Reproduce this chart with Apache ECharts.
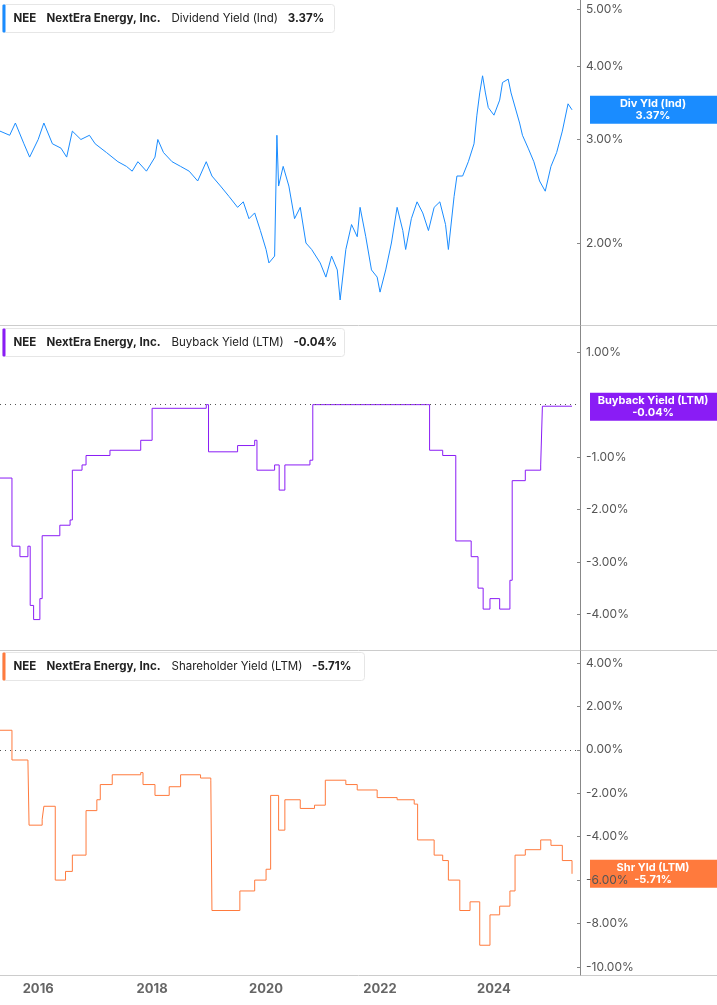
<!DOCTYPE html>
<html>
<head>
<meta charset="utf-8">
<script src="https://cdn.jsdelivr.net/npm/echarts@6/dist/echarts.min.js"></script>
<style>
html, body { margin: 0; padding: 0; background: #fff; }
#main { width: 717px; height: 1005px; }
</style>
</head>
<body>
<div id="main"></div>
<script>
// [year, %]
const divYield = [
  [2015.33, 3.1], [2015.5, 3.05], [2015.6, 3.2], [2015.75, 2.95], [2015.85, 2.8], [2016.0, 3.0], [2016.1, 3.2],
  [2016.25, 2.95], [2016.4, 2.9], [2016.5, 2.8], [2016.6, 3.1], [2016.75, 3.0], [2016.9, 3.05], [2017.0, 2.95],
  [2017.2, 2.85], [2017.4, 2.75], [2017.55, 2.7], [2017.65, 2.65], [2017.75, 2.75], [2017.9, 2.65], [2018.05, 2.8],
  [2018.1, 3.0], [2018.2, 2.85], [2018.35, 2.75], [2018.5, 2.7], [2018.65, 2.65], [2018.8, 2.55], [2018.95, 2.75],
  [2019.05, 2.6], [2019.2, 2.5], [2019.35, 2.4], [2019.5, 2.3], [2019.6, 2.35], [2019.7, 2.2], [2019.8, 2.25],
  [2019.9, 2.1], [2020.0, 1.95], [2020.05, 1.85], [2020.15, 1.9], [2020.19, 3.05], [2020.22, 2.5], [2020.3, 2.7],
  [2020.4, 2.5], [2020.5, 2.2], [2020.6, 2.3], [2020.7, 2.0], [2020.8, 1.95], [2020.95, 1.85], [2021.05, 1.75],
  [2021.15, 1.9], [2021.25, 1.8], [2021.3, 1.6], [2021.4, 1.95], [2021.5, 2.15], [2021.6, 2.05], [2021.65, 2.3],
  [2021.75, 2.05], [2021.85, 1.8], [2021.95, 1.75], [2022.0, 1.65], [2022.1, 1.8], [2022.2, 2.0], [2022.3, 2.3],
  [2022.4, 2.1], [2022.45, 1.95], [2022.55, 2.2], [2022.65, 2.35], [2022.75, 2.25], [2022.85, 2.1], [2022.95, 2.3],
  [2023.05, 2.35], [2023.15, 2.15], [2023.2, 1.95], [2023.3, 2.4], [2023.35, 2.6], [2023.45, 2.6], [2023.55, 2.75],
  [2023.65, 2.95], [2023.7, 3.3], [2023.75, 3.6], [2023.8, 3.85], [2023.85, 3.6], [2023.9, 3.4], [2024.0, 3.3],
  [2024.1, 3.5], [2024.15, 3.75], [2024.25, 3.8], [2024.3, 3.6], [2024.45, 3.2], [2024.5, 3.05], [2024.6, 2.9],
  [2024.7, 2.75], [2024.8, 2.55], [2024.9, 2.45], [2025.0, 2.7], [2025.1, 2.85], [2025.2, 3.1], [2025.3, 3.45],
  [2025.37, 3.37]
];
const buyback = [
  [2015.33, -1.4], [2015.54, -2.7], [2015.68, -2.9], [2015.82, -2.7], [2015.86, -3.83], [2015.92, -4.1],
  [2016.03, -3.7], [2016.07, -2.5], [2016.38, -2.3], [2016.56, -2.2], [2016.6, -1.25], [2016.77, -1.15],
  [2016.84, -0.97], [2017.26, -0.87], [2017.8, -0.68], [2018.0, -0.07], [2018.95, 0], [2018.99, -0.9],
  [2019.5, -0.78], [2019.8, -0.68], [2019.84, -1.25], [2020.15, -1.15], [2020.23, -1.63], [2020.33, -1.15],
  [2020.77, -1.06], [2020.82, 0], [2022.83, 0], [2022.87, -0.87], [2023.1, -0.97], [2023.33, -2.6],
  [2023.6, -2.9], [2023.72, -3.5], [2023.81, -3.9], [2023.93, -3.7], [2024.1, -3.9], [2024.28, -3.35],
  [2024.32, -1.45], [2024.55, -1.25], [2024.82, -1.15], [2024.85, -0.03], [2025.37, -0.04]
];
const shareholder = [
  [2015.33, 0.9], [2015.54, -0.47], [2015.82, -0.5], [2015.84, -3.47], [2016.07, -3.2], [2016.1, -2.6],
  [2016.3, -6.0], [2016.48, -5.6], [2016.6, -4.85], [2016.84, -2.8], [2017.03, -2.3], [2017.09, -1.6],
  [2017.3, -1.15], [2017.8, -1.05], [2017.84, -1.6], [2018.05, -2.1], [2018.3, -1.7], [2018.5, -1.15],
  [2018.85, -1.3], [2019.03, -1.4], [2019.05, -7.4], [2019.54, -6.5], [2019.8, -6.0], [2020.0, -5.5],
  [2020.08, -2.1], [2020.22, -3.7], [2020.33, -2.3], [2020.6, -2.7], [2020.85, -2.55], [2021.04, -1.4],
  [2021.4, -1.6], [2021.6, -1.85], [2021.95, -2.2], [2022.3, -2.3], [2022.6, -2.5], [2022.66, -4.15],
  [2022.95, -4.85], [2023.1, -5.1], [2023.2, -6.0], [2023.4, -7.4], [2023.58, -7.0], [2023.75, -9.0],
  [2023.93, -7.6], [2024.1, -7.2], [2024.28, -6.5], [2024.37, -4.85], [2024.55, -4.6], [2024.82, -4.15],
  [2025.0, -4.4], [2025.2, -5.1], [2025.37, -5.71]
];
const divTicks = [2, 3, 4, 5];
const buyTicks = [1, -1, -2, -3, -4];
const shrTicks = [4, 2, 0, -2, -4, -6, -8, -10];
const yearTicks = [2016, 2018, 2020, 2022, 2024];

const BLUE = '#1a8cff', PURPLE = '#8a1cf5', ORANGE = '#ff7a3d';
const X_MIN = 2015.33, X_MAX = 2025.51;

const chart = echarts.init(document.getElementById('main'));
const grids = [
  { left: 0, width: 580, top: 0, height: 325 },
  { left: 0, width: 580, top: 326, height: 324 },
  { left: 0, width: 580, top: 651, height: 324 }
];
const xAxis = grids.map((g, i) => ({
  type: 'value', gridIndex: i, min: X_MIN, max: X_MAX,
  axisLine: { show: false },
  axisTick: { show: false },
  splitLine: { show: false },
  axisLabel: {
    show: i === 2, customValues: yearTicks, color: '#666', fontWeight: 'bold',
    fontSize: 13, fontFamily: 'Inter', formatter: v => String(Math.round(v))
  }
}));
const yBase = {
  position: 'right', splitLine: { show: false },
  axisLine: { show: true, onZero: false, lineStyle: { color: '#888' } },
  axisTick: { show: true, length: 3, inside: true, lineStyle: { color: '#888' } },
  axisLabel: { color: '#555', fontSize: 12, fontFamily: 'Inter', margin: 6 }
};
const yAxis = [
  Object.assign({}, yBase, {
    type: 'value', gridIndex: 0, min: 0.372, max: 1.645,
    axisTick: Object.assign({}, yBase.axisTick, { customValues: divTicks.map(Math.log) }),
    axisLabel: Object.assign({}, yBase.axisLabel, {
      customValues: divTicks.map(Math.log), formatter: v => Math.exp(v).toFixed(2) + '%'
    })
  }),
  Object.assign({}, yBase, {
    type: 'value', gridIndex: 1, min: -4.68, max: 1.5,
    axisTick: Object.assign({}, yBase.axisTick, { customValues: buyTicks }),
    axisLabel: Object.assign({}, yBase.axisLabel, { customValues: buyTicks, formatter: v => v.toFixed(2) + '%' })
  }),
  Object.assign({}, yBase, {
    type: 'value', gridIndex: 2, min: -10.37, max: 4.55,
    axisTick: Object.assign({}, yBase.axisTick, { customValues: shrTicks }),
    axisLabel: Object.assign({}, yBase.axisLabel, { customValues: shrTicks, formatter: v => v.toFixed(2) + '%' })
  })
];
const zeroLine = {
  silent: true, symbol: 'none', label: { show: false },
  lineStyle: { color: '#555', type: [1, 4], width: 1 },
  data: [{ yAxis: 0 }]
};
const series = [
  { type: 'line', xAxisIndex: 0, yAxisIndex: 0, showSymbol: false, data: divYield.map(d => [d[0], Math.log(d[1])]),
    lineStyle: { color: BLUE, width: 1 }, itemStyle: { color: BLUE } },
  { type: 'line', xAxisIndex: 1, yAxisIndex: 1, showSymbol: false, step: 'end', data: buyback,
    lineStyle: { color: PURPLE, width: 1 }, itemStyle: { color: PURPLE }, markLine: zeroLine },
  { type: 'line', xAxisIndex: 2, yAxisIndex: 2, showSymbol: false, step: 'end', data: shareholder,
    lineStyle: { color: ORANGE, width: 1 }, itemStyle: { color: ORANGE }, markLine: zeroLine }
];
chart.setOption({ animation: false, grid: grids, xAxis, yAxis, series });

function legend(y, color, label, value, w) {
  const font = { fontSize: 11.5, fontFamily: 'Inter', fill: '#222', verticalAlign: 'middle' };
  return {
    type: 'group', left: 2, top: y, children: [
      { type: 'rect', shape: { x: 0, y: 0, width: w, height: 28, r: 3 }, style: { fill: '#fff', stroke: '#e6e6e6' } },
      { type: 'rect', shape: { x: 0, y: 0, width: 3, height: 28, r: 1 }, style: { fill: color } },
      { type: 'text', x: 11, y: 14, style: Object.assign({ text: 'NEE', fontWeight: 'bold' }, font) },
      { type: 'text', x: 44, y: 14, style: Object.assign({ text: 'NextEra Energy, Inc.', fontWeight: 'bold' }, font) },
      { type: 'text', x: 169, y: 14, style: Object.assign({ text: label + '   {b|' + value + '}',
        rich: { b: { fontWeight: 'bold', fontSize: 11.5, fontFamily: 'Inter', fill: '#222' } } }, font) }
    ]
  };
}
function tag(seriesIndex, pt, color, line1, line2) {
  const p = chart.convertToPixel({ seriesIndex }, pt);
  return {
    type: 'group', left: 590, top: p[1] - 14, children: [
      { type: 'rect', shape: { x: 0, y: 0, width: 127, height: 28 }, style: { fill: color } },
      { type: 'text', x: 63, y: 14, style: { text: line1 + '\n' + line2, fill: '#fff', fontWeight: 'bold', fontSize: 11,
        fontFamily: 'Inter', align: 'center', verticalAlign: 'middle', lineHeight: 12 } }
    ]
  };
}
const lastDiv = divYield[divYield.length - 1];
chart.setOption({
  graphic: [
    { type: 'line', shape: { x1: 0, y1: 325.5, x2: 717, y2: 325.5 }, style: { stroke: '#ccc' } },
    { type: 'line', shape: { x1: 0, y1: 650.5, x2: 717, y2: 650.5 }, style: { stroke: '#ccc' } },
    { type: 'line', shape: { x1: 0, y1: 975.5, x2: 717, y2: 975.5 }, style: { stroke: '#ccc' } },
    legend(4, BLUE, 'Dividend Yield (Ind)', '3.37%', 332),
    legend(328, PURPLE, 'Buyback Yield (LTM)', '-0.04%', 342),
    legend(652, ORANGE, 'Shareholder Yield (LTM)', '-5.71%', 362),
    tag(0, [lastDiv[0], Math.log(lastDiv[1])], BLUE, 'Div Yld (Ind)', '3.37%'),
    tag(1, buyback[buyback.length - 1], PURPLE, 'Buyback Yield (LTM)', '-0.04%'),
    tag(2, shareholder[shareholder.length - 1], ORANGE, 'Shr Yld (LTM)', '-5.71%')
  ]
});
</script>
</body>
</html>
